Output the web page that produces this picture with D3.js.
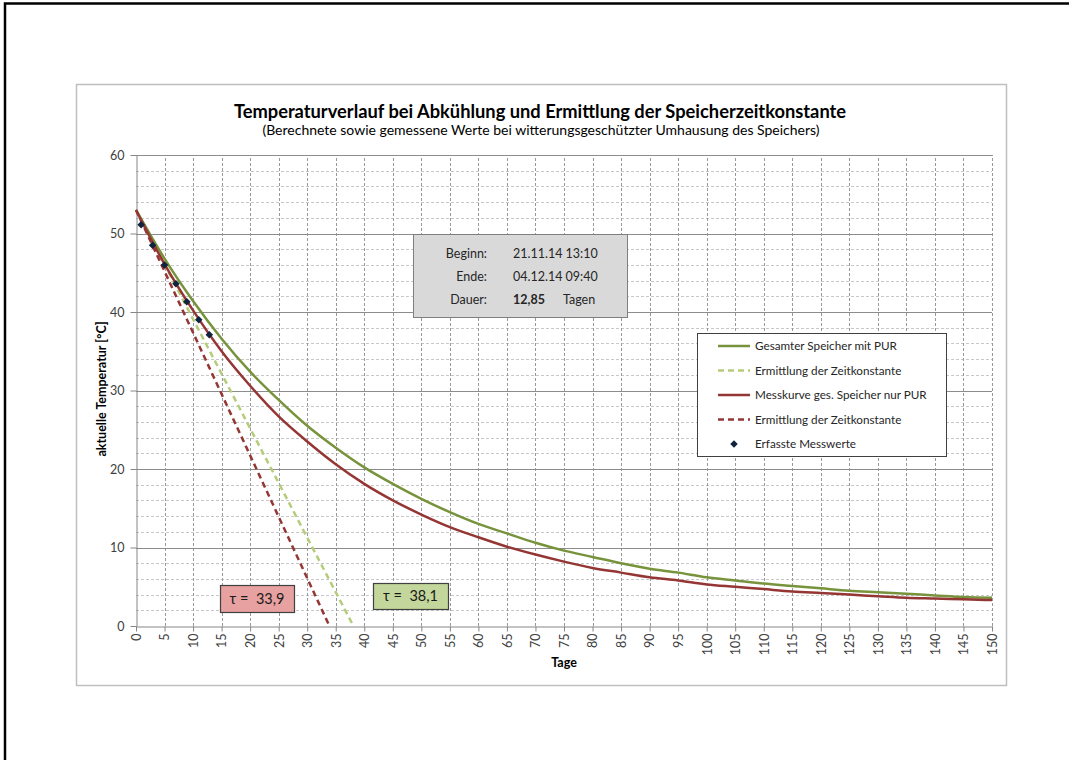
<!DOCTYPE html>
<html>
<head>
<meta charset="utf-8">
<script src="https://cdn.jsdelivr.net/npm/d3@7"></script>
<style>
  html, body { margin: 0; padding: 0; background: #fff; }
  svg { display: block; font-family: Lato, "Liberation Sans", sans-serif; }
</style>
</head>
<body>
<svg id="chart" width="1069" height="760"></svg>
<script>
// Tage (sampling of the calculated curves)
const days = [0,5,10,15,20,25,30,35,40,45,50,55,60,65,70,75,80,85,90,95,100,105,110,115,120,125,130,135,140,145,150];
// Gesamter Speicher mit PUR (calculated)
const tempTotal = [53.0,46.8,41.4,36.6,32.4,28.8,25.5,22.7,20.2,18.1,16.2,14.5,13.0,11.8,10.6,9.6,8.8,8.0,7.3,6.8,6.2,5.8,5.4,5.1,4.8,4.5,4.3,4.1,3.9,3.7,3.6];
// Messkurve ges. Speicher nur PUR
const tempPur = [53.0,46.1,40.2,35.0,30.6,26.7,23.5,20.6,18.1,16.0,14.2,12.6,11.3,10.1,9.1,8.2,7.4,6.8,6.2,5.8,5.3,5.0,4.7,4.4,4.2,4.0,3.8,3.6,3.5,3.4,3.3];
// Zeitkonstanten (tangent reaches 0 °C at tau)
const startTemp = 53.0;
const tauTotal = 38.1;
const tauPur = 33.9;
// Erfasste Messwerte
const measDays = [0.9, 2.9, 5.0, 7.0, 8.9, 11.0, 12.85];
const measTemps = [51.1, 48.5, 46.0, 43.6, 41.3, 39.0, 37.1];
// Axis ticks
const xTicks = d3.range(0, 151, 5);
const yTicks = [0, 10, 20, 30, 40, 50, 60];
const yMinor = d3.range(0, 61, 2).filter(v => v % 10 !== 0);

const legendItems = [
  {label: "Gesamter Speicher mit PUR", color: "#77933c", dash: null, width: 2.5},
  {label: "Ermittlung der Zeitkonstante", color: "#b5cc7a", dash: "6,4", width: 2.5},
  {label: "Messkurve ges. Speicher nur PUR", color: "#943634", dash: null, width: 2.5},
  {label: "Ermittlung der Zeitkonstante", color: "#943634", dash: "6,4", width: 2.5},
  {label: "Erfasste Messwerte", marker: true}
];

const svg = d3.select("#chart");

// page frame (left and top edges)
svg.append("path").attr("d", "M5,800 V3.5 H1069").attr("fill", "none").attr("stroke", "#000").attr("stroke-width", 2.5);

// chart area border
svg.append("rect").attr("x", 76.5).attr("y", 84.5).attr("width", 930).attr("height", 601)
  .attr("fill", "#fff").attr("stroke", "#bfbfbf").attr("stroke-width", 1.5);

const x = d3.scaleLinear().domain([0, 150]).range([136, 992]);
const y = d3.scaleLinear().domain([0, 60]).range([626, 155]);

// grid
const grid = svg.append("g");
grid.selectAll(".ym").data(yMinor).join("line")
  .attr("x1", x(0)).attr("x2", x(150)).attr("y1", d => Math.round(y(d)) + 0.5).attr("y2", d => Math.round(y(d)) + 0.5)
  .attr("stroke", "#c8c8c8").attr("stroke-width", 1).attr("stroke-dasharray", "3,2");
grid.selectAll(".xg").data(xTicks.filter(d => d > 0)).join("line")
  .attr("x1", d => Math.round(x(d)) + 0.5).attr("x2", d => Math.round(x(d)) + 0.5).attr("y1", y(0)).attr("y2", y(60))
  .attr("stroke", "#999").attr("stroke-width", 1).attr("stroke-dasharray", "3,2");
grid.selectAll(".yg").data(yTicks.filter(d => d > 0)).join("line")
  .attr("x1", x(0)).attr("x2", x(150)).attr("y1", d => Math.round(y(d)) + 0.5).attr("y2", d => Math.round(y(d)) + 0.5)
  .attr("stroke", "#8c8c8c").attr("stroke-width", 1);

// axes
const xAxis = svg.append("g").attr("transform", `translate(0,${Math.round(y(0)) + 0.5})`)
  .call(d3.axisBottom(x).tickValues(xTicks).tickSize(5).tickSizeOuter(0).tickFormat(d3.format("d")));
xAxis.select(".domain").attr("stroke", "#868686");
xAxis.selectAll(".tick line").attr("stroke", "#868686");
xAxis.selectAll(".tick text")
  .attr("transform", "rotate(-90)")
  .attr("x", -7).attr("y", 0).attr("dy", "0.35em")
  .attr("text-anchor", "end")
  .attr("font-size", 12.5).attr("fill", "#404040").attr("font-family", "Lato, sans-serif");

const yAxis = svg.append("g").attr("transform", `translate(${Math.round(x(0)) + 0.5},0)`)
  .call(d3.axisLeft(y).tickValues(yTicks).tickSize(6).tickSizeOuter(0));
yAxis.select(".domain").attr("stroke", "#868686");
yAxis.selectAll(".tick line").attr("stroke", "#868686");
yAxis.selectAll(".tick text").attr("x", -12).attr("font-size", 12.5).attr("fill", "#404040").attr("font-family", "Lato, sans-serif");

// titles
svg.append("text").attr("x", 540).attr("y", 118).attr("text-anchor", "middle")
  .attr("font-size", 18.3).attr("font-weight", "bold").attr("fill", "#000")
  .text("Temperaturverlauf bei Abkühlung und Ermittlung der Speicherzeitkonstante");
svg.append("text").attr("x", 541).attr("y", 135).attr("text-anchor", "middle")
  .attr("font-size", 14).attr("fill", "#000")
  .text("(Berechnete sowie gemessene Werte bei witterungsgeschützter Umhausung des Speichers)");
svg.append("text").attr("transform", "translate(106,389) rotate(-90)").attr("text-anchor", "middle")
  .attr("font-size", 12.5).attr("font-weight", "bold").text("aktuelle Temperatur [°C]");
svg.append("text").attr("x", 564).attr("y", 667).attr("text-anchor", "middle")
  .attr("font-size", 12.5).attr("font-weight", "bold").text("Tage");

// plot content
const plot = svg.append("g");
const line = d3.line().curve(d3.curveMonotoneX).x(d => x(d[0])).y(d => y(d[1]));

plot.append("path").datum([[0, startTemp], [tauTotal, 0]]).attr("d", line)
  .attr("fill", "none").attr("stroke", "#b5cc7a").attr("stroke-width", 2.5).attr("stroke-dasharray", "6,4");
plot.append("path").datum([[0, startTemp], [tauPur, 0]]).attr("d", line)
  .attr("fill", "none").attr("stroke", "#943634").attr("stroke-width", 2.5).attr("stroke-dasharray", "6,4");
plot.append("path").datum(days.map((d, i) => [d, tempTotal[i]])).attr("d", line)
  .attr("fill", "none").attr("stroke", "#77933c").attr("stroke-width", 2.5);
plot.append("path").datum(days.map((d, i) => [d, tempPur[i]])).attr("d", line)
  .attr("fill", "none").attr("stroke", "#943634").attr("stroke-width", 2.5);

const diamond = d3.symbol().type(d3.symbolDiamond2).size(36);
plot.selectAll(".pt").data(measDays.map((d, i) => [d, measTemps[i]])).join("path")
  .attr("d", diamond).attr("transform", d => `translate(${x(d[0])},${y(d[1])})`)
  .attr("fill", "#0f243e");

// info box
const info = svg.append("g");
info.append("rect").attr("x", 413.5).attr("y", 234.5).attr("width", 214).attr("height", 83)
  .attr("fill", "#d9d9d9").attr("stroke", "#7f7f7f").attr("stroke-width", 1);
const infoRows = [["Beginn:", "21.11.14 13:10"], ["Ende:", "04.12.14 09:40"], ["Dauer:", "12,85"]];
infoRows.forEach((r, i) => {
  const yy = 258 + i * 23;
  info.append("text").attr("x", 487).attr("y", yy).attr("text-anchor", "end").attr("font-size", 12.5).attr("fill", "#262626").text(r[0]);
  info.append("text").attr("x", 513).attr("y", yy).attr("font-size", 12.5).attr("fill", "#262626")
    .attr("font-weight", i === 2 ? "bold" : "normal").text(r[1]);
});
info.append("text").attr("x", 563).attr("y", 258 + 46).attr("font-size", 12.5).attr("fill", "#262626").text("Tagen");

// legend
const lg = svg.append("g");
lg.append("rect").attr("x", 697.5).attr("y", 333.5).attr("width", 249).attr("height", 123)
  .attr("fill", "#fff").attr("stroke", "#404040").attr("stroke-width", 1);
legendItems.forEach((it, i) => {
  const yy = 346 + i * 24.5;
  if (it.marker) {
    lg.append("path").attr("d", diamond).attr("transform", `translate(734,${yy})`).attr("fill", "#0f243e");
  } else {
    lg.append("line").attr("x1", 718).attr("x2", 750).attr("y1", yy).attr("y2", yy)
      .attr("stroke", it.color).attr("stroke-width", it.width).attr("stroke-dasharray", it.dash);
  }
  lg.append("text").attr("x", 755).attr("y", yy).attr("dy", "0.35em").attr("font-size", 11.7).attr("fill", "#262626").text(it.label);
});

// time constant boxes
function tauBox(x0, y0, w, h, fill, value) {
  svg.append("rect").attr("x", x0 + 0.5).attr("y", y0 + 0.5).attr("width", w).attr("height", h)
    .attr("fill", fill).attr("stroke", "#404040").attr("stroke-width", 1.2);
  svg.append("text").attr("x", x0 + w / 2).attr("y", y0 + h / 2).attr("dy", "0.35em").attr("text-anchor", "middle")
    .attr("font-size", 14.5).attr("fill", "#1a1a1a").attr("xml:space", "preserve")
    .text("τ =  " + d3.format(".1f")(value).replace(".", ","));
}
tauBox(220, 585, 74, 27, "#e6a1a0", tauPur);
tauBox(373, 583, 75, 26, "#c3d69b", tauTotal);
</script>
</body>
</html>
